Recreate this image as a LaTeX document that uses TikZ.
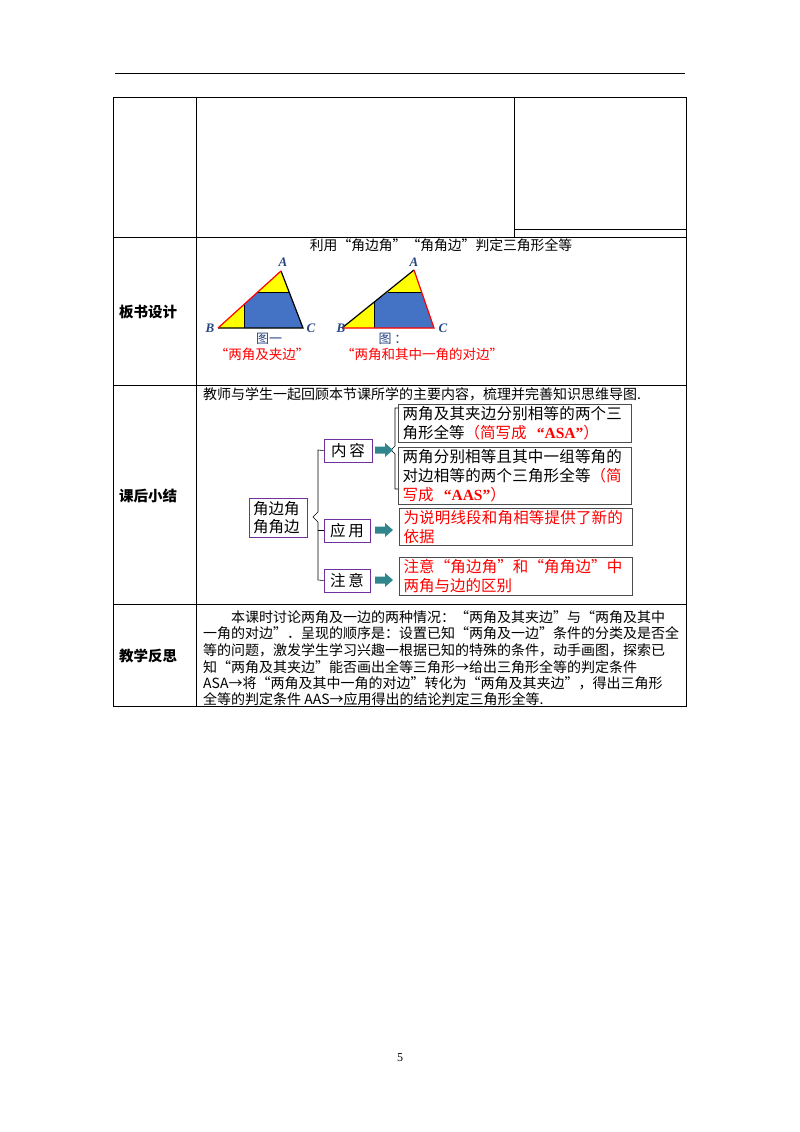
\documentclass[tikz,border=0pt]{standalone}
\usepackage{fontspec}
\setmainfont{Liberation Serif}
\newfontfamily\cjk{Noto Sans CJK SC}
\XeTeXlinebreaklocale "zh"
\XeTeXlinebreakskip=0pt plus 1pt
\usetikzlibrary{arrows.meta}
\definecolor{tblue}{RGB}{68,114,196}
\definecolor{tyel}{RGB}{255,255,0}
\definecolor{teal2}{RGB}{49,133,140}
\definecolor{lblue}{RGB}{40,70,130}
\definecolor{purp}{RGB}{112,48,160}
\begin{document}
\begin{tikzpicture}[x=1pt,y=-1pt,
  body/.style={font=\cjk\fontsize{14}{16}\selectfont,anchor=west,inner sep=0},
  lab/.style={font=\cjk\bfseries\fontsize{14.5}{16}\selectfont},
  kb/.style={draw=purp,line width=1pt,font=\cjk\fontsize{15.5}{18}\selectfont,inner sep=2pt},
  rb/.style={draw=black!70,line width=1pt,minimum width=233pt,align=left,text width=225pt,font=\cjk\fontsize{15.5}{19}\selectfont,inner xsep=3pt,inner ysep=2pt,anchor=north west},
  arr/.style={fill=teal2,draw=none}]
\useasboundingbox (0,0) rectangle (800,1132);
\fill[white] (0,0) rectangle (800,1132);
% header rule and table
\draw[line width=0.8pt] (115,73) -- (685,73);
\draw[line width=0.8pt] (113,97) rectangle (686,706);
\draw (196,97) -- (196,706);
\draw (113,237) -- (686,237);
\draw (113,385) -- (686,385);
\draw (113,604) -- (686,604);
\draw (514,97) -- (514,237);
\draw (514,229) -- (686,229);
\node[lab] (l1) at (148,312) {板书设计};
\node[lab] (l2) at (148,496) {课后小结};
\node[lab] (l3) at (148,656) {教学反思};
% board design
\node[font=\cjk\fontsize{13.8}{15}\selectfont] (title) at (441,245) {利用“角边角”“角角边”判定三角形全等};
\fill[tyel] (218,328) -- (281,271) -- (303,328) -- cycle;
\fill[tblue] (244,304.5) -- (257.8,292) -- (289.1,292) -- (303,328) -- (244,328) -- cycle;
\draw[black,line width=0.5pt] (244,304.5) -- (244,328) (257.8,292) -- (289.1,292);
\draw[black,line width=1.2pt] (281,271) -- (303,328) -- (218,328);
\draw[red,line width=1.2pt] (218,328) -- (281,271);
\fill[tyel] (342,328) -- (414,270) -- (434,328) -- cycle;
\fill[tblue] (374,302.2) -- (388.1,292) -- (421.6,292) -- (434,328) -- (374,328) -- cycle;
\draw[black,line width=0.5pt] (374,302.2) -- (374,328) (388.1,292) -- (421.6,292);
\draw[black,line width=1.2pt] (342,328) -- (414,270);
\draw[red,line width=1.2pt] (414,270) -- (434,328) -- (342,328);
\node[font=\itshape\bfseries\fontsize{13}{14}\selectfont,text=lblue] (A1) at (283,262) {A};
\node[font=\itshape\bfseries\fontsize{13}{14}\selectfont,text=lblue] (B1) at (210,328) {B};
\node[font=\itshape\bfseries\fontsize{13}{14}\selectfont,text=lblue] (C1) at (311,328) {C};
\node[font=\itshape\bfseries\fontsize{13}{14}\selectfont,text=lblue] (A2) at (414,262) {A};
\node[font=\itshape\bfseries\fontsize{13}{14}\selectfont,text=lblue] (B2) at (341,328) {B};
\node[font=\itshape\bfseries\fontsize{13}{14}\selectfont,text=lblue] (C2) at (443,328) {C};
\node[font=\cjk\fontsize{13}{14}\selectfont,text=lblue] (f1) at (269,339) {图一};
\node[font=\cjk\fontsize{13}{14}\selectfont,text=lblue] (f2) at (393,339) {图 ：};
\node[font=\cjk\fontsize{13.5}{15}\selectfont,text=red] (q1) at (262,354) {“两角及夹边”};
\node[font=\cjk\fontsize{13.5}{15}\selectfont,text=red] (q2) at (422,354) {“两角和其中一角的对边”};
% summary
\node[body,font=\cjk\fontsize{14}{16}\selectfont] (intro) at (203,394) {教师与学生一起回顾本节课所学的主要内容，梳理并完善知识思维导图.};
\node[kb,align=left,minimum width=58pt,minimum height=39pt,text width=50pt,font=\cjk\fontsize{15.5}{18}\selectfont] (root) at (278,517.5) {角边角\\角角边};
\node[kb,minimum width=48pt,minimum height=23pt] (k1) at (348,450.5) {内\,容};
\node[kb,minimum width=46pt,minimum height=23pt] (k2) at (347,530.5) {应\,用};
\node[kb,minimum width=46pt,minimum height=23pt] (k3) at (347,580.5) {注\,意};
\draw[line width=0.6pt] (k1.west) -- (318,450) -- (318,512) -- (313,517) -- (318,522) -- (318,580) -- (k3.west);
\draw[line width=0.6pt] (k2.west) -- (318,530.5);
\draw[line width=0.6pt] (399,408) -- (395,408) -- (395,446) -- (391,450) -- (395,454) -- (395,489) -- (399,489);
\foreach \n/\y in {a1/450,a2/530,a3/580}{
  \fill[arr] (375,\y-3.5) -- (385,\y-3.5) -- (385,\y-7) -- (393,\y) -- (385,\y+7) -- (385,\y+3.5) -- (375,\y+3.5) -- cycle;
  \coordinate (\n) at (384,\y);
}
\node[rb] (r1) at (398,404) {两角及其夹边分别相等的两个三角形全等\textcolor{red}{（简写成\ \ \textbf{\rmfamily“ASA”}）}};
\node[rb] (r2) at (398,447) {两角分别相等且其中一组等角的对边相等的两个三角形全等\textcolor{red}{（简写成\ \ \textbf{\rmfamily“AAS”}）}};
\node[rb,text=red] (r3) at (399,508) {为说明线段和角相等提供了新的依据};
\node[rb,text=red] (r4) at (399,557) {注意“角边角”和“角角边”中两角与边的区别};
% reflection
\node[body] (t1) at (231,617) {本课时讨论两角及一边的两种情况：“两角及其夹边”与“两角及其中};
\node[body] (t2) at (203,633) {一角的对边”．呈现的顺序是：设置已知“两角及一边”条件的分类及是否全};
\node[body] (t3) at (203,650) {等的问题，激发学生学习兴趣一根据已知的特殊的条件，动手画图，探索已};
\node[body] (t4) at (203,667) {知“两角及其夹边”能否画出全等三角形→给出三角形全等的判定条件};
\node[body] (t5) at (203,683) {ASA→将“两角及其中一角的对边”转化为“两角及其夹边”，得出三角形};
\node[body] (t6) at (203,699) {全等的判定条件 AAS→应用得出的结论判定三角形全等.};
\node[font=\fontsize{12}{13}\selectfont] (pg) at (400,1058) {5};
\end{tikzpicture}
\end{document}
